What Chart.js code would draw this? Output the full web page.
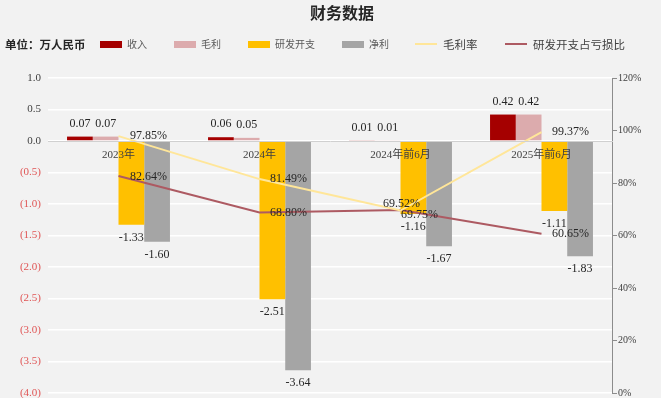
<!DOCTYPE html>
<html>
<head>
<meta charset="utf-8">
<script src="https://cdn.jsdelivr.net/npm/chart.js@4.4.1/dist/chart.umd.min.js"></script>
<style>
    html, body { margin: 0; padding: 0; background: #f2f2f2; }
    #wrap { position: relative; width: 661px; height: 398px; background: #f2f2f2; overflow: hidden; font-family: 'Noto Sans CJK SC', sans-serif; }
    #chart { position: absolute; left: 0; top: 0; }
    .title { position: absolute; left: 0; width: 684px; top: 0; text-align: center; font-size: 16px; font-weight: bold; color: #262626; line-height: 24px; }
    .unit { position: absolute; left: 5px; top: 35px; font-size: 11.5px; font-weight: bold; color: #262626; line-height: 18px; }
    .lg { position: absolute; top: 35px; line-height: 18px; white-space: nowrap; }
    .lg .sw { position: absolute; left: 0; }
    .lg span.t { position: absolute; top: 0; }
</style>
</head>
<body>
<div id="wrap">
    <canvas id="chart" width="661" height="398"></canvas>
    <div class="title">财务数据</div>
    <div class="unit">单位：万人民币</div>
    <div id="legend"></div>
</div>
<script>
const categories = ['2023年', '2024年', '2024年前6月', '2025年前6月'];
const revenue = [0.07, 0.06, 0.01, 0.42];
const grossProfit = [0.07, 0.05, 0.01, 0.42];
const rdExpense = [-1.33, -2.51, -1.16, -1.11];
const netProfit = [-1.60, -3.64, -1.67, -1.83];
const grossMargin = [97.85, 81.49, 69.52, 99.37];
const rdLossRatio = [82.64, 68.80, 69.75, 60.65];

const leftMin = -4, leftMax = 1, leftStep = 0.5;
const rightMin = 0, rightMax = 120, rightStep = 20;

const colors = {
    revenue: '#a50000',
    gross: '#dcabad',
    rd: '#ffc000',
    net: '#a5a5a5',
    margin: '#ffe699',
    ratio: '#ad5a62',
};

const numFont = "'Liberation Serif', 'Noto Sans CJK SC', serif";

// legend drawn as html
const legendItems = [
    { label: '收入', color: colors.revenue, kind: 'box', x: 100 },
    { label: '毛利', color: colors.gross, kind: 'box', x: 174 },
    { label: '研发开支', color: colors.rd, kind: 'box', x: 248 },
    { label: '净利', color: colors.net, kind: 'box', x: 342 },
    { label: '毛利率', color: colors.margin, kind: 'line', x: 415 },
    { label: '研发开支占亏损比', color: colors.ratio, kind: 'line', x: 505 },
];

function buildLegend() {
    const box = document.getElementById('legend');
    legendItems.forEach((item) => {
        const el = document.createElement('div');
        el.className = 'lg';
        el.style.left = item.x + 'px';
        const isBox = item.kind === 'box';
        const swStyle = isBox
            ? `top:6px;width:22px;height:7px;background:${item.color}`
            : `top:8px;width:22px;height:2px;background:${item.color}`;
        const txtStyle = isBox
            ? 'left:27px;font-size:10px;color:#595959'
            : 'left:28px;font-size:11.5px;color:#404040';
        el.innerHTML = `<div class="sw" style="${swStyle}"></div><span class="t" style="${txtStyle}">${item.label}</span>`;
        box.appendChild(el);
    });
}

// label offsets for the two line series (dx, dy from the point)
const lineLabelOffsets = {
    grossMargin: [[30, 0], [29, 0], [1, -7], [29, 0]],
    rdLossRatio: [[30, 1], [29, 0], [19, 5], [29, 0]],
};

const valueLabels = {
    id: 'valueLabels',
    afterDatasetsDraw(chart) {
        const ctx = chart.ctx;
        ctx.save();
        ctx.font = '12px ' + numFont;
        ctx.fillStyle = '#262626';
        ctx.textAlign = 'center';
        ctx.textBaseline = 'middle';
        chart.data.datasets.forEach((ds, di) => {
            const meta = chart.getDatasetMeta(di);
            meta.data.forEach((el, i) => {
                const v = ds.data[i];
                if (ds.type === 'line') {
                    const off = lineLabelOffsets[ds.key][i];
                    ctx.fillText(v.toFixed(2) + '%', el.x + off[0], el.y + off[1]);
                } else {
                    const y = v >= 0 ? el.y - 13 : el.y + 13;
                    ctx.fillText(v.toFixed(2), el.x, y);
                }
            });
        });
        ctx.restore();
    },
};

function makeBar(label, data, color, key) {
    return {
        type: 'bar',
        key: key,
        label: label,
        data: data,
        backgroundColor: color,
        yAxisID: 'y',
        order: 2,
        categoryPercentage: 0.73,
        barPercentage: 1.0,
    };
}

function makeLine(label, data, color, key) {
    return {
        type: 'line',
        key: key,
        label: label,
        data: data,
        borderColor: color,
        backgroundColor: color,
        borderWidth: 2,
        pointRadius: 0,
        tension: 0,
        yAxisID: 'y1',
        order: 1,
    };
}

// fixed axis widths, and no extra vertical padding from the tick labels
function fixAxis(width) {
    return (scale) => {
        scale.width = width;
        scale.paddingTop = 0;
        scale.paddingBottom = 0;
    };
}

function renderChart() {
    const ctx = document.getElementById('chart').getContext('2d');
    new Chart(ctx, {
        data: {
            labels: categories,
            datasets: [
                makeLine('毛利率', grossMargin, colors.margin, 'grossMargin'),
                makeLine('研发开支占亏损比', rdLossRatio, colors.ratio, 'rdLossRatio'),
                makeBar('收入', revenue, colors.revenue, 'revenue'),
                makeBar('毛利', grossProfit, colors.gross, 'gross'),
                makeBar('研发开支', rdExpense, colors.rd, 'rd'),
                makeBar('净利', netProfit, colors.net, 'net'),
            ],
        },
        options: {
            responsive: false,
            animation: false,
            layout: { padding: { top: 78, bottom: 5, left: 0, right: 0 } },
            plugins: {
                legend: { display: false },
                tooltip: { enabled: false },
            },
            scales: {
                x: {
                    position: { y: 0 },
                    afterFit(scale) { scale.height = 0; },
                    grid: { display: false, drawTicks: false },
                    border: { display: true, color: '#d0d0d0', width: 1, z: 1 },
                    ticks: {
                        z: 1,
                        color: '#404040',
                        font: { size: 11, family: numFont },
                        padding: 8,
                        maxRotation: 0,
                    },
                },
                y: {
                    position: 'left',
                    min: leftMin,
                    max: leftMax,
                    afterFit: fixAxis(48),
                    grid: { color: '#ffffff', lineWidth: 1.5, drawTicks: false },
                    border: { display: false },
                    ticks: {
                        stepSize: leftStep,
                        padding: 7,
                        font: { size: 11, family: numFont },
                        color: (c) => (c.tick.value < 0 ? '#e05555' : '#404040'),
                        callback: (v) => (v < 0 ? '(' + Math.abs(v).toFixed(1) + ')' : v.toFixed(1)),
                    },
                },
                y1: {
                    position: 'right',
                    min: rightMin,
                    max: rightMax,
                    afterFit: fixAxis(49),
                    grid: { drawOnChartArea: false, drawTicks: true, tickLength: 5, color: '#8c8c8c' },
                    border: { display: true, color: '#8c8c8c' },
                    ticks: {
                        stepSize: rightStep,
                        padding: 1,
                        font: { size: 10, family: numFont },
                        color: '#404040',
                        callback: (v) => v + '%',
                    },
                },
            },
        },
        plugins: [valueLabels],
    });
}

buildLegend();
renderChart();
</script>
</body>
</html>
